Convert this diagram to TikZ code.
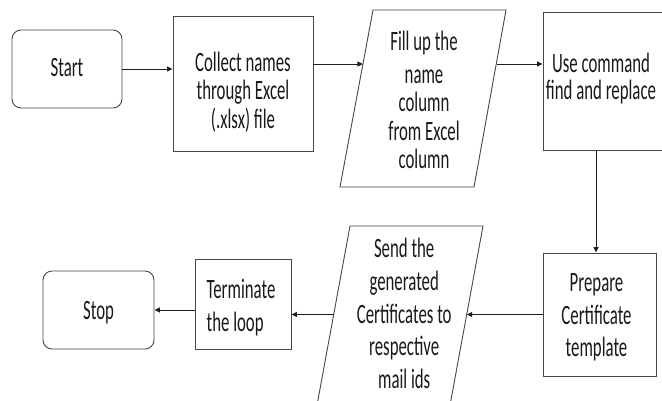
\documentclass[tikz,border=0pt]{standalone}
\usepackage{fontspec}
\setmainfont{Carlito}
\usetikzlibrary{arrows.meta}
\newsavebox\txbox
\newcommand\mystrut{\vrule height 19.6bp depth 8.4bp width 0pt}
% #1 dx, #2 dy (down), #3 baselineskip, #4 l or c, #5 lines
\newcommand\tx[5]{%
  \sbox\txbox{\scalebox{0.6}[1]{\vbox{\fontsize{28bp}{#3bp}\selectfont\lineskiplimit=-\maxdimen\lineskip=0pt\let\\\cr
    \if l#4\halign{\mystrut##\hfil\cr#5\crcr}\else\halign{\hfil\mystrut##\hfil\cr#5\crcr}\fi}}}%
  \raisebox{\dimexpr0pt-#2bp-4bp-(\ht\txbox-\dp\txbox)/2\relax}[0pt][0pt]{\makebox[0pt]{\hspace*{#1bp}\hspace*{#1bp}\usebox\txbox}}}
\tikzset{
  shp/.style={draw=black!72, line width=0.9bp, inner sep=0pt, text=black!90},
  rbox/.style={shp, rectangle},
  term/.style={shp, rectangle, rounded corners=9bp},
  txt/.style={inner sep=0pt, text=black!90},
  arr/.style={draw=black!88, line width=0.9bp, -{Triangle[length=5.5bp,width=5bp]}}
}
\begin{document}
\begin{tikzpicture}[x=1bp,y=-1bp]
\useasboundingbox (0,0) rectangle (662,400);
\clip (0,0) rectangle (662,400);
\node[term, minimum width=110bp, minimum height=78bp] (start) at (67,69) {\tx{0}{-2}{28.5}{c}{Start}};
\node[rbox, minimum width=140bp, minimum height=135bp] (collect) at (243,83.5) {\tx{0}{6.5}{28.5}{c}{Collect names\\through Excel\\(.xlsx) file}};
% parallelogram: Fill up
\draw[shp] (340,187) -- (474,187) -- (506,10) -- (373,10) -- cycle;
\node[txt] (fill) at (423,98.5) {\tx{1}{1.5}{28.5}{c}{Fill up the\\\noalign{\kern4bp}name\\column\\from Excel\\column}};
\coordinate (fillL) at (362.9,64);
\coordinate (fillR) at (496.9,64);
\node[rbox, minimum width=177bp, minimum height=138bp] (use) at (631.5,81) {\tx{-30.5}{-4.5}{27}{c}{Use command\\find and replace}};
\node[rbox, minimum width=113bp, minimum height=123bp] (prepare) at (599.5,314.5) {\tx{-3}{0}{32.5}{c}{Prepare\\Certificate\\template}};
% parallelogram: Send
\draw[shp] (317.4,403) -- (450.4,403) -- (483,226) -- (350,226) -- cycle;
\node[txt] (send) at (400.2,314.5) {\tx{4}{-1}{32.7}{c}{Send the\\generated\\Certificates to\\respective\\mail ids}};
\coordinate (sendR) at (466.7,314.5);
\coordinate (sendL) at (333.7,314.5);
\node[rbox, minimum width=96bp, minimum height=90bp] (terminate) at (243,304) {\tx{-2}{1}{33}{l}{Terminate\\the loop}};
\node[term, minimum width=111bp, minimum height=78bp] (stop) at (98.5,310) {\tx{0}{0}{28.5}{c}{Stop}};
\coordinate (down) at ([xshift=-3.5bp]prepare.north);
\draw[arr] (start.east) -- (start.east -| collect.west);
\draw[arr] (collect.east |- fillL) -- (fillL);
\draw[arr] (fillR) -- (fillR -| use.west);
\draw[arr] (down |- use.south) -- (down);
\draw[arr] (prepare.west) -- (sendR);
\draw[arr] (sendL) -- (sendL -| terminate.east);
\draw[arr] (stop.east -| terminate.west) -- (stop.east);
\end{tikzpicture}
\end{document}
